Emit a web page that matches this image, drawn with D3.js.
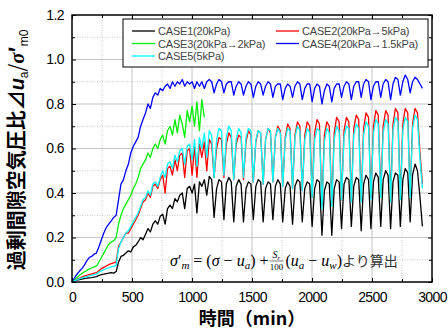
<!DOCTYPE html>
<html>
<head>
<meta charset="utf-8">
<script src="https://cdn.jsdelivr.net/npm/d3@7"></script>
<style>
body { margin: 0; background: #fff; }
svg { display: block; }
</style>
</head>
<body>
<div id="chart"></div>
<script>
// sample times (min)
const minutes = [0,20,41,61,82,102,123,143,163,184,204,225,245,265,286,306,327,347,368,388,
    408,429,449,470,490,511,531,551,572,592,613,633,653,674,694,715,735,756,776,796,
    817,837,858,878,898,919,939,960,980,1001,1021,1041,1062,1082,1103,1123,1144,1164,1184,1205,
    1225,1246,1266,1286,1307,1327,1348,1368,1389,1409,1429,1450,1470,1491,1511,1532,1552,1572,1593,1613,
    1634,1654,1674,1695,1715,1736,1756,1777,1797,1817,1838,1858,1879,1899,1919,1940,1960,1981,2001,2022,
    2042,2062,2083,2103,2124,2144,2165,2185,2205,2226,2246,2267,2287,2307,2328,2348,2369,2389,2410,2430,
    2450,2471,2491,2512,2532,2552,2573,2593,2614,2634,2655,2675,2695,2716,2736,2757,2777,2798,2818,2838,
    2859,2879,2900,2920]

// CASE1 (20kPa) - black
const case1 = [0,0.005,0.008,0.011,0.013,0.015,0.017,0.019,0.02,0.022,
    0.024,0.03,0.033,0.035,0.038,0.04,0.042,0.04,0.047,0.09,
    0.115,0.12,0.13,0.14,0.135,0.158,0.165,0.18,0.2,0.19,
    0.215,0.24,0.225,0.26,0.275,0.26,0.295,0.305,0.26,0.33,
    0.345,0.33,0.375,0.36,0.39,0.4,0.33,0.42,0.43,0.4,
    0.44,0.31,0.45,0.43,0.46,0.39,0.475,0.46,
    0.29,0.42,0.46,0.45, 0.28,0.44,0.47,0.45, 0.27,0.43,0.46,0.44, 0.27,0.42,0.45,0.44,
    0.28,0.43,0.46,0.45, 0.27,0.42,0.45,0.44, 0.28,0.43,0.46,0.44, 0.27,0.42,0.45,0.43,
    0.26,0.43,0.46,0.45, 0.27,0.42,0.45,0.44, 0.25,0.42,0.46,0.45, 0.21,0.41,0.45,0.44,
    0.21,0.42,0.46,0.45, 0.24,0.44,0.47,0.46, 0.25,0.43,0.47,0.46, 0.23,0.44,0.48,0.46,
    0.24,0.45,0.49,0.47, 0.25,0.46,0.5,0.48, 0.24,0.45,0.49,0.48, 0.25,0.46,0.51,0.49,
    0.27,0.48,0.53,0.5, 0.38,0.25]

// CASE2 (20kPa -> 5kPa) - red
const case2 = [0,0.006,0.012,0.017,0.022,0.026,0.03,0.033,0.036,0.04,
    0.042,0.052,0.06,0.066,0.072,0.078,0.083,0.086,0.09,0.16,
    0.18,0.2,0.22,0.22,0.24,0.26,0.28,0.3,0.33,0.36,
    0.37,0.4,0.38,0.43,0.44,0.42,0.46,0.48,0.4,0.51,
    0.52,0.48,0.55,0.5,0.57,0.58,0.47,0.59,0.6,0.48,
    0.61,0.47,0.62,0.56,0.63,0.5,0.64,0.62,
    0.47,0.6,0.65,0.64, 0.47,0.62,0.67,0.65, 0.46,0.62,0.66,0.65, 0.46,0.63,0.68,0.66,
    0.45,0.63,0.68,0.67, 0.44,0.64,0.69,0.67, 0.45,0.65,0.7,0.68, 0.43,0.65,0.71,0.69,
    0.42,0.66,0.72,0.7, 0.41,0.66,0.72,0.7, 0.38,0.67,0.73,0.71, 0.34,0.66,0.72,0.7,
    0.35,0.67,0.74,0.72, 0.37,0.68,0.74,0.72, 0.37,0.69,0.75,0.73, 0.37,0.69,0.76,0.74,
    0.38,0.7,0.77,0.75, 0.39,0.7,0.77,0.75, 0.37,0.71,0.78,0.76, 0.38,0.71,0.78,0.76,
    0.39,0.71,0.78,0.76, 0.58,0.44]

// CASE3 (20kPa -> 2kPa) - green
const case3 = [0,0.01,0.02,0.03,0.038,0.045,0.052,0.058,0.063,0.068,
    0.072,0.09,0.11,0.13,0.15,0.17,0.18,0.185,0.2,0.26,
    0.3,0.33,0.35,0.37,0.39,0.42,0.44,0.47,0.51,0.53,
    0.55,0.58,0.56,0.6,0.62,0.6,0.64,0.66,0.62,0.68,
    0.7,0.66,0.73,0.67,0.75,0.71,0.65,0.77,0.72,0.79,
    0.7,0.81,0.68,0.82,0.74]

// CASE4 (20kPa -> 1.5kPa) - blue
const case4 = [0,0.018,0.035,0.048,0.06,0.075,0.095,0.11,0.115,0.125,
    0.13,0.16,0.19,0.22,0.245,0.26,0.275,0.29,0.3,0.37,
    0.44,0.46,0.5,0.53,0.58,0.61,0.63,0.65,0.7,0.73,
    0.76,0.8,0.78,0.83,0.85,0.84,0.87,0.86,0.88,0.89,
    0.87,0.9,0.88,0.9,0.89,0.91,0.88,0.9,0.89,0.9,
    0.87,0.9,0.88,0.9,0.87,0.9,0.91,0.9,
    0.85,0.89,0.91,0.9, 0.85,0.89,0.9,0.9, 0.84,0.88,0.9,0.89, 0.84,0.88,0.9,0.89,
    0.83,0.88,0.9,0.89, 0.84,0.88,0.9,0.89, 0.83,0.88,0.89,0.89, 0.82,0.87,0.89,0.88,
    0.83,0.88,0.9,0.89, 0.82,0.87,0.89,0.89, 0.81,0.87,0.89,0.88, 0.8,0.86,0.89,0.88,
    0.81,0.87,0.89,0.89, 0.83,0.88,0.9,0.89, 0.82,0.88,0.9,0.9, 0.83,0.89,0.91,0.9,
    0.82,0.88,0.9,0.9, 0.83,0.89,0.91,0.9, 0.82,0.89,0.92,0.91, 0.84,0.9,0.93,0.91,
    0.85,0.9,0.92,0.91, 0.89,0.87]

// CASE5 (5kPa) - cyan
const case5 = [0,0.005,0.01,0.014,0.018,0.021,0.024,0.027,0.03,0.033,
    0.035,0.045,0.05,0.055,0.06,0.063,0.068,0.07,0.075,0.15,
    0.18,0.2,0.22,0.23,0.25,0.27,0.29,0.31,0.34,0.37,
    0.38,0.41,0.39,0.44,0.45,0.43,0.47,0.5,0.47,0.53,
    0.54,0.51,0.57,0.54,0.59,0.6,0.53,0.61,0.62,0.55,
    0.64,0.52,0.65,0.6,0.67,0.56,0.68,0.66,
    0.47,0.64,0.69,0.68, 0.48,0.65,0.7,0.68, 0.46,0.64,0.69,0.67, 0.47,0.65,0.69,0.68,
    0.45,0.64,0.68,0.67, 0.44,0.64,0.69,0.68, 0.45,0.65,0.69,0.67, 0.43,0.64,0.69,0.68,
    0.42,0.65,0.7,0.68, 0.41,0.64,0.69,0.67, 0.38,0.64,0.69,0.68, 0.33,0.63,0.69,0.67,
    0.34,0.64,0.7,0.68, 0.37,0.65,0.7,0.69, 0.36,0.66,0.71,0.69, 0.36,0.66,0.72,0.7,
    0.37,0.67,0.73,0.71, 0.38,0.67,0.73,0.71, 0.36,0.68,0.74,0.72, 0.37,0.68,0.74,0.72,
    0.38,0.69,0.75,0.73, 0.55,0.42]

const xTicks = [0, 500, 1000, 1500, 2000, 2500, 3000]
const yTicks = [0.0, 0.2, 0.4, 0.6, 0.8, 1.0, 1.2]

const seriesList = [
    {name: "CASE1(20kPa)", color: "#000000", values: case1},
    {name: "CASE2(20kPa→5kPa)", color: "#ff0000", values: case2},
    {name: "CASE3(20kPa→2kPa)", color: "#00ee00", values: case3},
    {name: "CASE4(20kPa→1.5kPa)", color: "#0000ff", values: case4},
    {name: "CASE5(5kPa)", color: "#00ffff", values: case5},
]

//dimensions
let dimensions = {
    width: 448,
    height: 329,
    margin: {top: 15, right: 16, bottom: 47, left: 72},
}
const plotRight = dimensions.width - dimensions.margin.right
const plotBottom = dimensions.height - dimensions.margin.bottom

const svg = d3.select("#chart")
    .append("svg")
    .attr("width", dimensions.width)
    .attr("height", dimensions.height)

//scales
const xScale = d3.scaleLinear()
    .domain([0, 3000])
    .range([dimensions.margin.left, plotRight])
const yScale = d3.scaleLinear()
    .domain([0, 1.2])
    .range([plotBottom, dimensions.margin.top])

// grid
const grid = svg.append("g")
grid.selectAll(".gx").data(d3.range(250, 3000, 250)).join("line")
    .attr("x1", d => xScale(d)).attr("x2", d => xScale(d))
    .attr("y1", dimensions.margin.top).attr("y2", plotBottom)
    .attr("stroke", "#c4c4c4")
    .attr("stroke-width", 1)
    .attr("stroke-dasharray", d => d % 500 === 0 ? null : "1,1.5")
grid.selectAll(".gy").data(d3.range(1, 12).map(d => d / 10)).join("line")
    .attr("x1", dimensions.margin.left).attr("x2", plotRight)
    .attr("y1", d => yScale(d)).attr("y2", d => yScale(d))
    .attr("stroke", "#c4c4c4")
    .attr("stroke-width", 1)
    .attr("stroke-dasharray", (d, i) => i % 2 === 1 ? null : "1,1.5")

// lines
const lineGenerator = d3.line()
    .x((d, i) => xScale(minutes[i]))
    .y(d => yScale(d))
const lines = svg.append("g")
for (const s of seriesList) {
    lines.append("path")
        .attr("d", lineGenerator(s.values))
        .attr("fill", "none")
        .attr("stroke", s.color)
        .attr("stroke-width", 1.3)
        .attr("stroke-linejoin", "round")
}

// axes (ticks inside on all four sides)
const axisFont = "'Liberation Sans', Arial, sans-serif"
svg.append("g")
    .attr("transform", "translate(0," + plotBottom + ")")
    .call(d3.axisBottom(xScale).tickValues(xTicks).tickSize(-4).tickPadding(10).tickFormat(d3.format("d")))
svg.append("g")
    .attr("transform", "translate(" + dimensions.margin.left + ",0)")
    .call(d3.axisLeft(yScale).tickValues(yTicks).tickSize(-4).tickPadding(8).tickFormat(d3.format(".1f")))
svg.append("g")
    .attr("transform", "translate(0," + dimensions.margin.top + ")")
    .call(d3.axisTop(xScale).tickValues(xTicks).tickSize(-4).tickFormat(""))
svg.append("g")
    .attr("transform", "translate(" + plotRight + ",0)")
    .call(d3.axisRight(yScale).tickValues(yTicks).tickSize(-4).tickFormat(""))
const minorX = d3.range(250, 3000, 500)
const minorY = [0.1, 0.3, 0.5, 0.7, 0.9, 1.1]
svg.append("g").attr("transform", "translate(0," + plotBottom + ")")
    .call(d3.axisBottom(xScale).tickValues(minorX).tickSize(-3).tickFormat(""))
svg.append("g").attr("transform", "translate(0," + dimensions.margin.top + ")")
    .call(d3.axisTop(xScale).tickValues(minorX).tickSize(-3).tickFormat(""))
svg.append("g").attr("transform", "translate(" + dimensions.margin.left + ",0)")
    .call(d3.axisLeft(yScale).tickValues(minorY).tickSize(-3).tickFormat(""))
svg.append("g").attr("transform", "translate(" + plotRight + ",0)")
    .call(d3.axisRight(yScale).tickValues(minorY).tickSize(-3).tickFormat(""))
svg.selectAll(".domain").remove()
svg.selectAll(".tick line").attr("stroke", "#000").attr("stroke-width", 1)
svg.selectAll(".tick text")
    .attr("font-family", axisFont)
    .attr("font-size", 14)
    .attr("letter-spacing", -0.6)
    .attr("fill", "#000")

// frame
svg.append("rect")
    .attr("x", dimensions.margin.left).attr("y", dimensions.margin.top)
    .attr("width", plotRight - dimensions.margin.left)
    .attr("height", plotBottom - dimensions.margin.top)
    .attr("fill", "none").attr("stroke", "#000").attr("stroke-width", 1.5)

// legend
const legend = svg.append("g").attr("font-family", axisFont).attr("font-size", 11)
legend.append("rect")
    .attr("x", 123).attr("y", 19).attr("width", 305).attr("height", 48)
    .attr("fill", "#fff").attr("stroke", "#000").attr("stroke-width", 1)
const legendPos = [
    {col: 0, row: 0}, {col: 1, row: 0}, {col: 0, row: 1}, {col: 1, row: 1}, {col: 0, row: 2},
]
seriesList.forEach((s, i) => {
    const x0 = legendPos[i].col === 0 ? 132 : 276
    const y0 = 31 + legendPos[i].row * 12.5
    legend.append("line")
        .attr("x1", x0).attr("x2", x0 + 23).attr("y1", y0).attr("y2", y0)
        .attr("stroke", s.color).attr("stroke-width", 1.3)
    legend.append("text")
        .attr("x", x0 + 26).attr("y", y0 + 4)
        .attr("fill", "#444")
        .attr("letter-spacing", -0.2)
        .text(s.name)
})

// formula note
const mathFont = "'Liberation Serif', 'DejaVu Serif', serif"
const fx = 170, fy = 266
const f1 = svg.append("text").attr("x", fx).attr("y", fy)
    .attr("font-family", mathFont).attr("font-size", 16).attr("fill", "#000")
f1.append("tspan").attr("font-style", "italic").text("σ")
f1.append("tspan").text("′")
f1.append("tspan").attr("font-style", "italic").attr("font-size", 11).attr("dy", 3).text("m")
f1.append("tspan").attr("dy", -3).text(" = (")
f1.append("tspan").attr("font-style", "italic").text("σ")
f1.append("tspan").text(" − ")
f1.append("tspan").attr("font-style", "italic").text("u")
f1.append("tspan").attr("font-style", "italic").attr("font-size", 11).attr("dy", 3).text("a")
f1.append("tspan").attr("dy", -3).text(") + ")
const fracX = fx + f1.node().getComputedTextLength() + 1
const fracW = 14
const fTop = svg.append("text").attr("x", fracX + fracW / 2).attr("y", fy - 8)
    .attr("text-anchor", "middle").attr("font-family", mathFont).attr("font-size", 10)
fTop.append("tspan").attr("font-style", "italic").text("S")
fTop.append("tspan").attr("font-style", "italic").attr("font-size", 7).attr("dy", 2).text("r")
svg.append("line")
    .attr("x1", fracX).attr("x2", fracX + fracW)
    .attr("y1", fy - 5).attr("y2", fy - 5)
    .attr("stroke", "#000").attr("stroke-width", 0.5)
svg.append("text").attr("x", fracX + fracW / 2).attr("y", fy + 4)
    .attr("text-anchor", "middle").attr("font-family", mathFont).attr("font-size", 9)
    .text("100")
const f2 = svg.append("text").attr("x", fracX + fracW + 2).attr("y", fy)
    .attr("font-family", mathFont).attr("font-size", 16).attr("fill", "#000")
f2.append("tspan").text("(")
f2.append("tspan").attr("font-style", "italic").text("u")
f2.append("tspan").attr("font-style", "italic").attr("font-size", 11).attr("dy", 3).text("a")
f2.append("tspan").attr("dy", -3).text(" − ")
f2.append("tspan").attr("font-style", "italic").text("u")
f2.append("tspan").attr("font-style", "italic").attr("font-size", 11).attr("dy", 3).text("w")
f2.append("tspan").attr("dy", -3).text(")")
f2.append("tspan")
    .attr("font-family", "'Noto Sans CJK JP', sans-serif")
    .attr("font-size", 14).attr("fill", "#333")
    .text("より算出")

// axis titles
svg.append("text")
    .attr("x", (dimensions.margin.left + plotRight) / 2)
    .attr("y", 325)
    .attr("text-anchor", "middle")
    .attr("font-family", "'Noto Sans CJK JP', sans-serif")
    .attr("font-weight", "bold")
    .attr("font-size", 18)
    .text("時間（min）")

const yTitle = svg.append("text")
    .attr("transform", "translate(24,150) rotate(-90)")
    .attr("text-anchor", "middle")
    .attr("font-family", "'Noto Sans CJK JP', sans-serif")
    .attr("font-weight", "bold")
    .attr("font-size", 20)
yTitle.append("tspan").text("過剰間隙空気圧比⊿")
yTitle.append("tspan").attr("font-style", "italic").attr("font-family", "'Liberation Sans', Arial, sans-serif").text("u")
yTitle.append("tspan").attr("font-size", 12).attr("dy", 4).attr("font-weight", "normal").attr("font-family", "'Liberation Sans', Arial, sans-serif").text("a")
yTitle.append("tspan").attr("dy", -4).attr("font-weight", "normal").text("/")
yTitle.append("tspan").attr("font-style", "italic").attr("font-family", "'Liberation Serif', serif").text("σ")
yTitle.append("tspan").text("′")
yTitle.append("tspan").attr("font-size", 12).attr("dy", 4).attr("font-weight", "normal").attr("font-family", "'Liberation Sans', Arial, sans-serif").text("m0")
</script>
</body>
</html>
